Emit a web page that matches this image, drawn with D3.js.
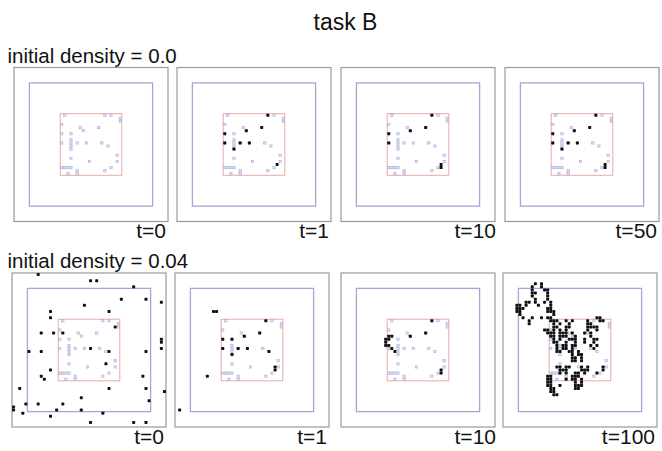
<!DOCTYPE html>
<html><head><meta charset="utf-8">
<script src="https://cdn.jsdelivr.net/npm/d3@7"></script>
<style>body{margin:0;background:#fff}svg{display:block}</style>
</head><body><svg id="c" width="662" height="451"></svg>
<script>
// ---------- data ----------
const title = "task B";
const rowLabels = ["initial density = 0.0", "initial density = 0.04"];
const timeLabels = [["t=0", "t=1", "t=10", "t=50"], ["t=0", "t=1", "t=10", "t=100"]];
const gridSize = 50;
const blueBox = [5, 45];
const redBox = [15, 35];

// faint target cells inside the red square (same in every panel)
const targetCells = [[16,15],[29,15],[31,15],[34,16],[34,17],[15,18],[21,19],[22,20],[27,19],[15,21],[18,21],
  [20,24],[23,24],[18,23],[18,24],[18,25],[18,26],[28,24],[30,25],[18,29],[33,28],[24,30],[33,30],[31,32],
  [15,32],[16,32],[17,32],[18,32],[29,33],[17,34],[20,33],[20,34],[15,24]];

// live cells [col,row]
const liveTop0 = [];
const liveTop1 = [[29,15],[27,19],[22,20],[15,21],[15,24],[20,24],[23,24],[18,26],[32,31]];
const liveTop10 = [[29,15],[27,19],[22,20],[15,21],[15,24],[32,31],[32,32]];
const liveTop50 = [[29,15],[27,19],[22,20],[15,21],[15,24],[20,24],[23,24],[18,26],[32,31],[32,32]];

const liveBot0 = [[8,0],[25,2],[27,2],[39,4],[35,8],[43,8],[48,9],[23,10],[31,12],[12,12],[12,14],[33,17],
  [9,19],[13,19],[16,19],[48,21],[48,22],[25,24],[48,24],[31,25],[5,25],[9,25],[43,25],[30,29],[12,31],
  [9,33],[10,34],[42,33],[31,37],[2,37],[43,37],[49,38],[22,40],[4,42],[8,42],[44,41],[16,42],[0,43],
  [0,44],[14,44],[22,44],[29,45],[3,45],[12,46],[25,48],[39,48],[43,48]];
const liveBot1 = [[12,12],[13,12],[29,15],[27,19],[22,20],[15,21],[18,21],[15,24],[20,24],[23,24],[18,26],
  [30,25],[32,30],[32,31],[10,33],[1,44]];
const liveBot10 = [[29,15],[27,19],[22,20],[15,20],[16,20],[14,21],[15,21],[14,22],[14,23],[15,23],[16,24],
  [17,25],[32,31],[32,32]];
const liveBot100 = [
  [10,3],[12,3],[9,4],[12,4],[9,5],[13,5],[14,5],[9,6],[10,6],[14,6],[9,7],[14,7],[10,8],[14,8],
  [7,9],[8,9],[10,9],[13,9],[15,9],[4,10],[5,10],[7,10],[11,10],[15,10],[4,11],[5,11],[6,11],[14,11],[15,11],
  [4,12],[5,12],[14,12],[15,12],[16,12],[5,13],[16,13],
  [6,14],[9,14],[12,14],[14,14],[15,14],[30,14],[31,14],
  [8,15],[15,15],[16,15],[17,15],[20,15],[22,15],[27,15],[31,15],[32,15],
  [8,16],[16,16],[18,16],[21,16],[27,16],[28,16],
  [16,17],[17,17],[20,17],[21,17],[27,17],[28,17],[29,17],[30,17],
  [13,18],[14,18],[16,18],[18,18],[20,18],[27,18],[30,18],
  [14,19],[15,19],[16,19],[18,19],[19,19],[20,19],[22,19],[26,19],[28,19],
  [15,20],[16,20],[18,20],[19,20],[20,20],[23,20],[28,20],
  [16,21],[18,21],[21,21],[22,21],[23,21],[26,21],[29,21],[30,21],
  [16,22],[17,22],[20,22],[23,22],[26,22],[29,22],
  [17,23],[19,23],[20,23],[22,23],[23,23],[28,23],[30,23],
  [17,24],[19,24],[20,24],[22,24],[29,24],
  [17,25],[18,25],[21,25],[22,25],[24,25],
  [22,26],[24,26],[25,26],[22,27],[23,27],[25,27],[22,28],[23,28],[25,28],
  [17,30],[18,30],[20,30],[21,30],[25,30],[27,30],[32,30],
  [18,31],[19,31],[20,31],[25,31],[26,31],[27,31],[32,31],
  [18,32],[20,32],[23,32],[24,32],[26,32],[30,32],
  [14,33],[15,33],[22,33],[23,33],[24,33],
  [14,34],[15,34],[20,34],[22,34],[23,34],[25,34],
  [14,35],[15,35],[23,35],[25,35],
  [14,36],[15,36],[18,36],[23,36],[24,36],[25,36],
  [15,37],[16,37],[23,37],[24,37],[15,38],[16,38],[16,39],[17,39]];

const panelData = [[liveTop0, liveTop1, liveTop10, liveTop50], [liveBot0, liveBot1, liveBot10, liveBot100]];

// ---------- layout ----------
const W = 662, H = 451;
const panelLeft = [[14, 177, 341, 505], [12, 175, 341, 503]];
const panelTop = [67.5, 273];
const panelSize = 154;
const font = "'Liberation Sans', Arial, sans-serif";

const svg = d3.select("#c");

svg.append("text").attr("x", 345.5).attr("y", 29.5).attr("text-anchor", "middle")
  .attr("font-family", font).attr("font-size", 23).attr("fill", "#111").text(title);

panelData.forEach((row, ri) => {
  svg.append("text").attr("x", 7.5).attr("y", panelTop[ri] - 5)
    .attr("font-family", font).attr("font-size", 20.5).attr("fill", "#111").text(rowLabels[ri]);

  row.forEach((cells, pi) => {
    const s = d3.scaleLinear().domain([0, gridSize]).range([0, panelSize]);
    const cw = s(1) - s(0);
    const x0 = panelLeft[ri][pi];
    const g = svg.append("g").attr("transform", `translate(${x0},${panelTop[ri]})`);

    g.append("rect").attr("x", s(0)).attr("y", s(0)).attr("width", s(gridSize) - s(0)).attr("height", s(gridSize) - s(0))
      .attr("fill", "#fff").attr("stroke", "#999").attr("stroke-width", 1.2);
    g.append("rect").attr("x", s(blueBox[0])).attr("y", s(blueBox[0]))
      .attr("width", s(blueBox[1]) - s(blueBox[0])).attr("height", s(blueBox[1]) - s(blueBox[0]))
      .attr("fill", "none").attr("stroke", "#a2a6d8").attr("stroke-width", 1.3);
    g.append("rect").attr("x", s(redBox[0])).attr("y", s(redBox[0]))
      .attr("width", s(redBox[1]) - s(redBox[0])).attr("height", s(redBox[1]) - s(redBox[0]))
      .attr("fill", "none").attr("stroke", "#eaa9a9").attr("stroke-width", 1);

    const ts = 2.3;
    g.selectAll("rect.t").data(targetCells).join("rect").attr("class", "t")
      .attr("x", d => s(d[0]) + (cw - ts) / 2).attr("y", d => s(d[1]) + (cw - ts) / 2)
      .attr("width", ts).attr("height", ts)
      .attr("fill", "#e4e6f7").attr("stroke", "#a4a9da").attr("stroke-width", 0.6);

    const ls = 3.0;
    g.selectAll("rect.l").data(cells).join("rect").attr("class", "l")
      .attr("x", d => s(d[0]) + (cw - ls) / 2).attr("y", d => s(d[1]) + (cw - ls) / 2)
      .attr("width", ls).attr("height", ls).attr("rx", 0.7)
      .attr("fill", "#111");

    const endX = Math.min(s(gridSize) + (pi === 2 ? 1 : -2), W - 1 - x0);
    g.append("text").attr("x", endX).attr("y", panelSize + 16.5)
      .attr("text-anchor", "end").attr("font-family", font).attr("font-size", 21).attr("fill", "#111")
      .text(timeLabels[ri][pi]);
  });
});
</script>
</body></html>
